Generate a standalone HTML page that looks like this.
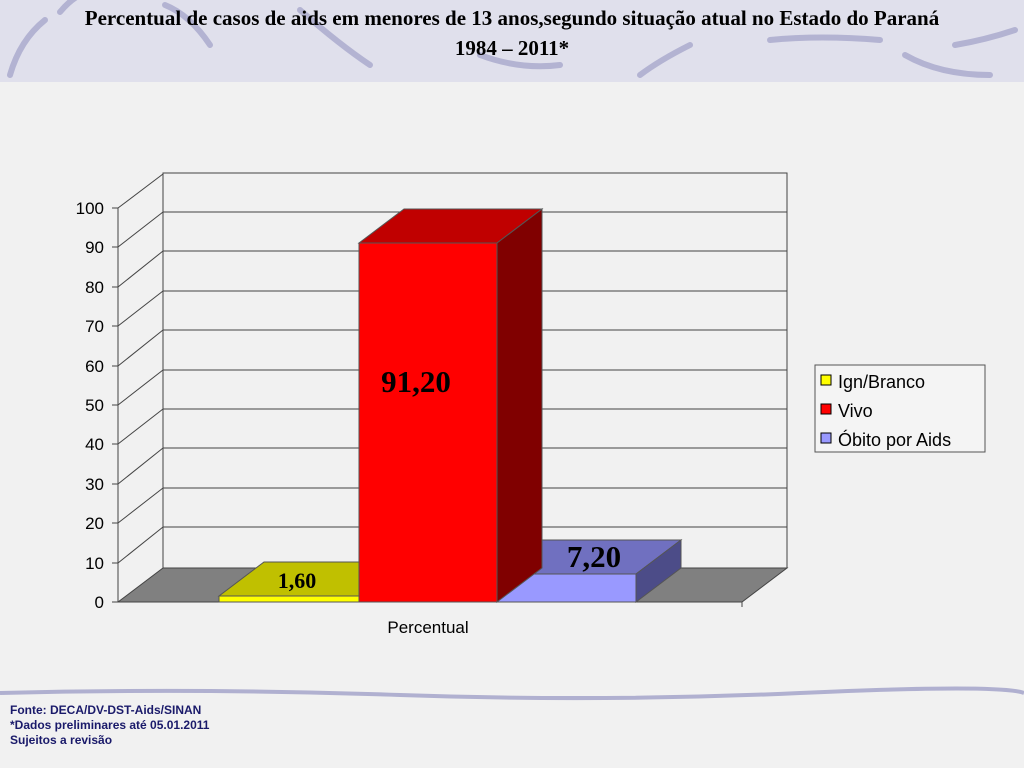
<!DOCTYPE html>
<html><head><meta charset="utf-8"><style>
body{margin:0;width:1024px;height:768px;overflow:hidden;background:#f1f1f1;font-family:"Liberation Sans",sans-serif;position:relative}
.hdr{position:absolute;left:0;top:0;width:1024px;height:82px;background:#e0e0ec}
.t{position:absolute;left:0;width:1024px;text-align:center;font-family:"Liberation Serif",serif;font-weight:bold;font-size:21px;color:#000;line-height:24px}
.foot{position:absolute;left:10px;top:703px;font-size:12px;font-weight:bold;color:#1a1a6a;line-height:15px}
</style></head><body>
<div class="hdr"></div>
<svg width="1024" height="768" style="position:absolute;left:0;top:0">
<g stroke="#a8a8cc" stroke-width="6" fill="none" stroke-linecap="round" opacity="0.8">
<path d="M10 75 Q20 40 45 20"/><path d="M60 12 Q70 0 80 -5"/><path d="M165 5 Q190 15 210 45"/>
<path d="M300 10 Q340 45 370 65"/><path d="M480 55 Q520 70 560 65"/><path d="M640 75 Q660 60 690 45"/>
<path d="M770 40 Q820 35 880 40"/><path d="M905 55 Q940 75 990 75"/><path d="M955 45 Q985 40 1015 30"/>
</g>
<path d="M0 693 Q200 688 400 695 T800 693 T1024 693" stroke="#b0b0d0" stroke-width="4" fill="none"/>
<g stroke="#444" stroke-width="1" fill="none">
<rect x="163" y="173" width="624" height="395"/>
<line x1="163" y1="212" x2="787" y2="212"/><line x1="163" y1="251" x2="787" y2="251"/>
<line x1="163" y1="291" x2="787" y2="291"/><line x1="163" y1="330" x2="787" y2="330"/>
<line x1="163" y1="370" x2="787" y2="370"/><line x1="163" y1="409" x2="787" y2="409"/>
<line x1="163" y1="448" x2="787" y2="448"/><line x1="163" y1="488" x2="787" y2="488"/>
<line x1="163" y1="527" x2="787" y2="527"/>
<line x1="118" y1="208" x2="163" y2="174"/><line x1="118" y1="247" x2="163" y2="212"/>
<line x1="118" y1="287" x2="163" y2="251"/><line x1="118" y1="326" x2="163" y2="291"/>
<line x1="118" y1="366" x2="163" y2="330"/><line x1="118" y1="405" x2="163" y2="370"/>
<line x1="118" y1="444" x2="163" y2="409"/><line x1="118" y1="484" x2="163" y2="448"/>
<line x1="118" y1="523" x2="163" y2="488"/><line x1="118" y1="563" x2="163" y2="527"/>
<line x1="118" y1="208" x2="118" y2="602"/>
</g>
<polygon points="118,602 742,602 787,568 163,568" fill="#808080" stroke="#444"/>
<g stroke="#444" stroke-width="1">
<line x1="112" y1="208" x2="118" y2="208"/><line x1="112" y1="247" x2="118" y2="247"/><line x1="112" y1="287" x2="118" y2="287"/><line x1="112" y1="326" x2="118" y2="326"/><line x1="112" y1="366" x2="118" y2="366"/><line x1="112" y1="405" x2="118" y2="405"/><line x1="112" y1="444" x2="118" y2="444"/><line x1="112" y1="484" x2="118" y2="484"/><line x1="112" y1="523" x2="118" y2="523"/><line x1="112" y1="563" x2="118" y2="563"/><line x1="112" y1="602" x2="118" y2="602"/>
<line x1="742" y1="602" x2="742" y2="607"/>
</g>
<polygon points="219,596 359,596 404,562 264,562" fill="#c0c000" stroke="#555"/>
<rect x="219" y="596" width="140" height="6" fill="#ffff00" stroke="#555"/>
<polygon points="497,574 636,574 681,540 542,540" fill="#7070c0" stroke="#555"/>
<polygon points="636,574 681,540 681,568 636,602" fill="#4c4c88" stroke="#555"/>
<rect x="497" y="574" width="139" height="28" fill="#9999ff" stroke="#555"/>
<polygon points="359,243 497,243 542,209 404,209" fill="#c00000" stroke="#555"/>
<polygon points="497,243 542,209 542,568 497,602" fill="#800000" stroke="#555"/>
<rect x="359" y="243" width="138" height="359" fill="#ff0000" stroke="#555"/>
<g font-family="Liberation Serif,serif" font-weight="bold" fill="#000">
<text x="416" y="392" font-size="31" text-anchor="middle">91,20</text>
<text x="297" y="588" font-size="22" text-anchor="middle">1,60</text>
<text x="594" y="567" font-size="31" text-anchor="middle">7,20</text>
</g>
<g font-size="17" fill="#000" text-anchor="end">
<text x="104" y="214">100</text><text x="104" y="253">90</text><text x="104" y="293">80</text><text x="104" y="332">70</text><text x="104" y="372">60</text><text x="104" y="411">50</text><text x="104" y="450">40</text><text x="104" y="490">30</text><text x="104" y="529">20</text><text x="104" y="569">10</text><text x="104" y="608">0</text>
</g>
<text x="428" y="633" font-size="17" text-anchor="middle">Percentual</text>
<rect x="815" y="365" width="170" height="87" fill="#f4f4f4" stroke="#555"/>
<rect x="821" y="375" width="10" height="10" fill="#ffff00" stroke="#000"/>
<rect x="821" y="404" width="10" height="10" fill="#ff0000" stroke="#000"/>
<rect x="821" y="433" width="10" height="10" fill="#9999ff" stroke="#000"/>
<g font-size="18" fill="#000"><text x="838" y="388">Ign/Branco</text><text x="838" y="417">Vivo</text><text x="838" y="446">Óbito por Aids</text></g>
</svg>
<div class="t" style="top:6px">Percentual de casos de aids em menores de 13 anos,segundo situação atual no Estado do Paraná</div>
<div class="t" style="top:36px">1984 – 2011*</div>
<div class="foot">Fonte: DECA/DV-DST-Aids/SINAN<br>*Dados preliminares até 05.01.2011<br>Sujeitos a revisão</div>
</body></html>
